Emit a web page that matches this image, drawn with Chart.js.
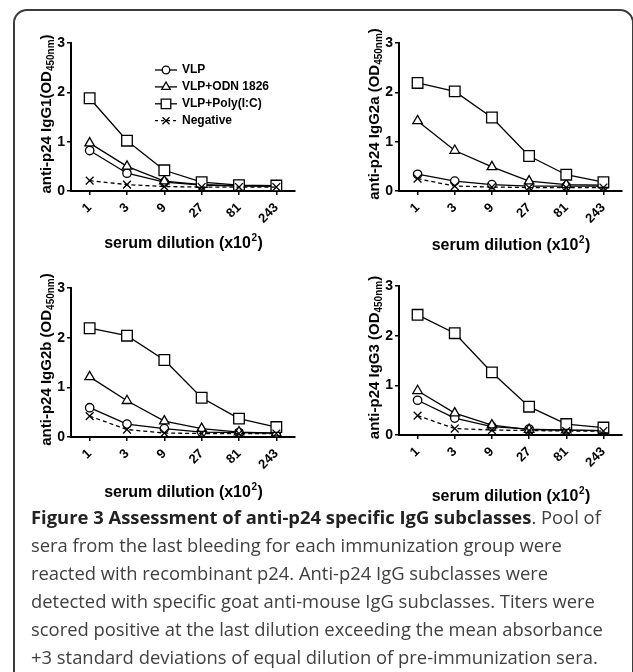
<!DOCTYPE html>
<html>
<head>
<meta charset="utf-8">
<script src="https://cdn.jsdelivr.net/npm/chart.js@4.4.1/dist/chart.umd.min.js"></script>
<style>
  html, body { margin: 0; padding: 0; background: #fff; }
  body { width: 633px; height: 672px; position: relative; overflow: hidden; }
  .frame { position: absolute; left: 13px; top: 9px; width: 621px; height: 720px;
           border: 2px solid #3c3c3c; border-radius: 14px; box-sizing: border-box; }
  canvas { position: absolute; }
  .cap { position: absolute; left: 31px; font-family: 'Open Sans', sans-serif; font-size: 18.4px;
         color: #404040; white-space: nowrap; line-height: 28px; }
  .cap b { color: #222; }
</style>
</head>
<body>
<div class="frame"></div>
<canvas id="c1" width="316" height="265" style="left:0;top:0"></canvas>
<canvas id="c2" width="317" height="265" style="left:316px;top:0"></canvas>
<canvas id="c3" width="316" height="240" style="left:0;top:265px"></canvas>
<canvas id="c4" width="317" height="240" style="left:316px;top:265px"></canvas>
<div class="cap" style="top:503px"><b>Figure 3 Assessment of anti-p24 specific IgG subclasses</b>. Pool of</div>
<div class="cap" style="top:531px">sera from the last bleeding for each immunization group were</div>
<div class="cap" style="top:559px">reacted with recombinant p24. Anti-p24 IgG subclasses were</div>
<div class="cap" style="top:587px">detected with specific goat anti-mouse IgG subclasses. Titers were</div>
<div class="cap" style="top:615px">scored positive at the last dilution exceeding the mean absorbance</div>
<div class="cap" style="top:643px">+3 standard deviations of equal dilution of pre-immunization sera.</div>

<script>
// serum dilution (x10^2)
const dilutions = ['1', '3', '9', '27', '81', '243'];
const groups = ['VLP', 'VLP+ODN 1826', 'VLP+Poly(I:C)', 'Negative'];

// OD450nm readings, IgG1
const igg1Vlp  = [0.82, 0.36, 0.18, 0.12, 0.10, 0.10];
const igg1Odn  = [0.97, 0.50, 0.20, 0.13, 0.11, 0.10];
const igg1Poly = [1.88, 1.02, 0.42, 0.18, 0.12, 0.11];
const igg1Neg  = [0.21, 0.13, 0.09, 0.08, 0.08, 0.08];

// IgG2a
const igg2aVlp  = [0.34, 0.20, 0.13, 0.10, 0.10, 0.10];
const igg2aOdn  = [1.42, 0.82, 0.49, 0.20, 0.13, 0.12];
const igg2aPoly = [2.19, 2.02, 1.49, 0.71, 0.33, 0.18];
const igg2aNeg  = [0.25, 0.10, 0.08, 0.07, 0.07, 0.07];

// IgG2b
const igg2bVlp  = [0.59, 0.26, 0.17, 0.10, 0.09, 0.08];
const igg2bOdn  = [1.21, 0.73, 0.32, 0.17, 0.10, 0.08];
const igg2bPoly = [2.19, 2.04, 1.55, 0.79, 0.37, 0.20];
const igg2bNeg  = [0.42, 0.15, 0.08, 0.07, 0.07, 0.07];

// IgG3
const igg3Vlp  = [0.70, 0.34, 0.17, 0.12, 0.10, 0.09];
const igg3Odn  = [0.89, 0.44, 0.20, 0.11, 0.10, 0.09];
const igg3Poly = [2.42, 2.05, 1.26, 0.57, 0.22, 0.15];
const igg3Neg  = [0.39, 0.13, 0.10, 0.09, 0.08, 0.08];

const yTicks = [0, 1, 2, 3];

const FONT = '"Liberation Sans", Arial, sans-serif';

// marker look for each group
const styles = [
    { pointStyle: 'circle',   radius: 4.2, dash: [] },
    { pointStyle: 'triangle', radius: 5.5, dash: [] },
    { pointStyle: 'rect',     radius: 7.5, dash: [] },
    { pointStyle: 'crossRot', radius: 5.5, dash: [4, 3] }
];

// draws y title (with subscript) and x title (with superscript)
const axisTitles = {
    id: 'axisTitles',
    afterDraw(chart, args, opts) {
        const { ctx, chartArea } = chart;
        ctx.save();
        ctx.fillStyle = '#000';
        ctx.textBaseline = 'alphabetic';

        // y title
        const big = 'bold 15px ' + FONT;
        const small = 'bold 10px ' + FONT;
        ctx.font = big;
        const w1 = ctx.measureText(opts.yMain).width;
        const w3 = ctx.measureText(')').width;
        ctx.font = small;
        const w2 = ctx.measureText('450nm').width;
        const total = w1 + w2 + w3;
        ctx.translate(chartArea.left - 20, (chartArea.top + chartArea.bottom) / 2 - 3);
        ctx.rotate(-Math.PI / 2);
        let x = -total / 2;
        ctx.font = big;
        ctx.fillText(opts.yMain, x, 0);
        x += w1;
        ctx.font = small;
        ctx.fillText('450nm', x, 3);
        x += w2;
        ctx.font = big;
        ctx.fillText(')', x, 0);
        ctx.restore();

        // x title
        ctx.save();
        ctx.fillStyle = '#000';
        const xb = 'bold 16px ' + FONT;
        const xs = 'bold 10px ' + FONT;
        ctx.font = xb;
        const a = ctx.measureText('serum dilution (x10').width;
        const c = ctx.measureText(')').width;
        ctx.font = xs;
        const b = ctx.measureText('2').width;
        let xx = (chartArea.left + chartArea.right) / 2 - (a + b + c) / 2;
        const yy = chartArea.bottom + opts.xGap;
        ctx.font = xb;
        ctx.fillText('serum dilution (x10', xx, yy);
        xx += a;
        ctx.font = xs;
        ctx.fillText('2', xx + 0.5, yy - 7);
        xx += b + 1;
        ctx.font = xb;
        ctx.fillText(')', xx, yy);
        ctx.restore();
    }
};

// legend with a short line through each marker
const lineLegend = {
    id: 'lineLegend',
    afterDraw(chart, args, opts) {
        if (!opts.show) return;
        const { ctx } = chart;
        ctx.save();
        groups.forEach((name, i) => {
            const y = opts.y + i * opts.step;
            const x0 = opts.x;
            const st = styles[i];
            ctx.strokeStyle = '#000';
            ctx.lineWidth = 1.3;
            ctx.setLineDash(st.dash.length ? [3, 3] : []);
            ctx.beginPath();
            ctx.moveTo(x0, y);
            ctx.lineTo(x0 + 22, y);
            ctx.stroke();
            ctx.setLineDash([]);
            ctx.fillStyle = '#fff';
            Chart.helpers.drawPoint(ctx, {
                pointStyle: st.pointStyle, radius: st.radius * 0.9, rotation: 0, borderWidth: 1.3
            }, x0 + 11, y);
            ctx.fillStyle = '#000';
            ctx.font = 'bold 12px ' + FONT;
            ctx.textBaseline = 'middle';
            ctx.fillText(name, x0 + 27, y);
        });
        ctx.restore();
    }
};

const panels = [
    { id: 'c1', left: 0,   top: 0,   area: { l: 71,  r: 295, t: 43,  b: 191 }, yMain: 'anti-p24 IgG1(OD',
      series: [igg1Vlp, igg1Odn, igg1Poly, igg1Neg], xGap: 57, legend: true },
    { id: 'c2', left: 316, top: 0,   area: { l: 399, r: 622, t: 43,  b: 191 }, yMain: 'anti-p24 IgG2a (OD',
      series: [igg2aVlp, igg2aOdn, igg2aPoly, igg2aNeg], xGap: 59, legend: false },
    { id: 'c3', left: 0,   top: 265, area: { l: 71,  r: 295, t: 288, b: 437 }, yMain: 'anti-p24 IgG2b (OD',
      series: [igg2bVlp, igg2bOdn, igg2bPoly, igg2bNeg], xGap: 60, legend: false },
    { id: 'c4', left: 316, top: 265, area: { l: 399, r: 622, t: 286, b: 435 }, yMain: 'anti-p24 IgG3 (OD',
      series: [igg3Vlp, igg3Odn, igg3Poly, igg3Neg], xGap: 66, legend: false }
];

const Y_W = 32, X_H = 40;

panels.forEach(p => {
    const canvas = document.getElementById(p.id);
    const w = canvas.width, h = canvas.height;
    const a = p.area;
    new Chart(canvas, {
        type: 'line',
        data: {
            labels: dilutions,
            // negative drawn first so the solid series sit on top
            datasets: groups.map((g, i) => ({
                label: g,
                data: p.series[i],
                borderColor: '#000',
                borderWidth: 1.3,
                borderDash: styles[i].dash,
                tension: 0,
                fill: false,
                pointStyle: styles[i].pointStyle,
                pointRadius: styles[i].radius,
                pointBackgroundColor: '#fff',
                pointBorderColor: '#000',
                pointBorderWidth: 1.3,
                clip: false
            })).reverse()
        },
        plugins: [axisTitles, lineLegend],
        options: {
            responsive: false,
            animation: false,
            events: [],
            layout: {
                padding: {
                    left: a.l - p.left - Y_W,
                    right: p.left + w - a.r,
                    top: a.t - p.top,
                    bottom: p.top + h - a.b - X_H
                }
            },
            plugins: {
                legend: { display: false },
                tooltip: { enabled: false },
                axisTitles: { yMain: p.yMain, xGap: p.xGap },
                lineLegend: { show: p.legend, x: 155 - p.left, y: 70 - p.top, step: 16.9 }
            },
            scales: {
                x: {
                    type: 'category',
                    offset: true,
                    grid: { offset: false, drawOnChartArea: false, tickLength: 4, color: '#000', lineWidth: 1.5 },
                    border: { color: '#000', width: 2 },
                    ticks: {
                        color: '#000', font: { family: FONT, size: 13, weight: 'bold' },
                        minRotation: 45, maxRotation: 45, padding: 5, autoSkip: false
                    },
                    afterFit: s => { s.height = X_H; }
                },
                y: {
                    min: 0, max: 3,
                    afterBuildTicks: s => { s.ticks = yTicks.map(v => ({ value: v })); },
                    grid: { drawOnChartArea: false, tickLength: 4, color: '#000', lineWidth: 1.5 },
                    border: { color: '#000', width: 2 },
                    ticks: { color: '#000', font: { family: FONT, size: 14, weight: 'bold' }, padding: 2 },
                    afterFit: s => { s.width = Y_W; }
                }
            }
        }
    });
});
</script>
</body>
</html>
